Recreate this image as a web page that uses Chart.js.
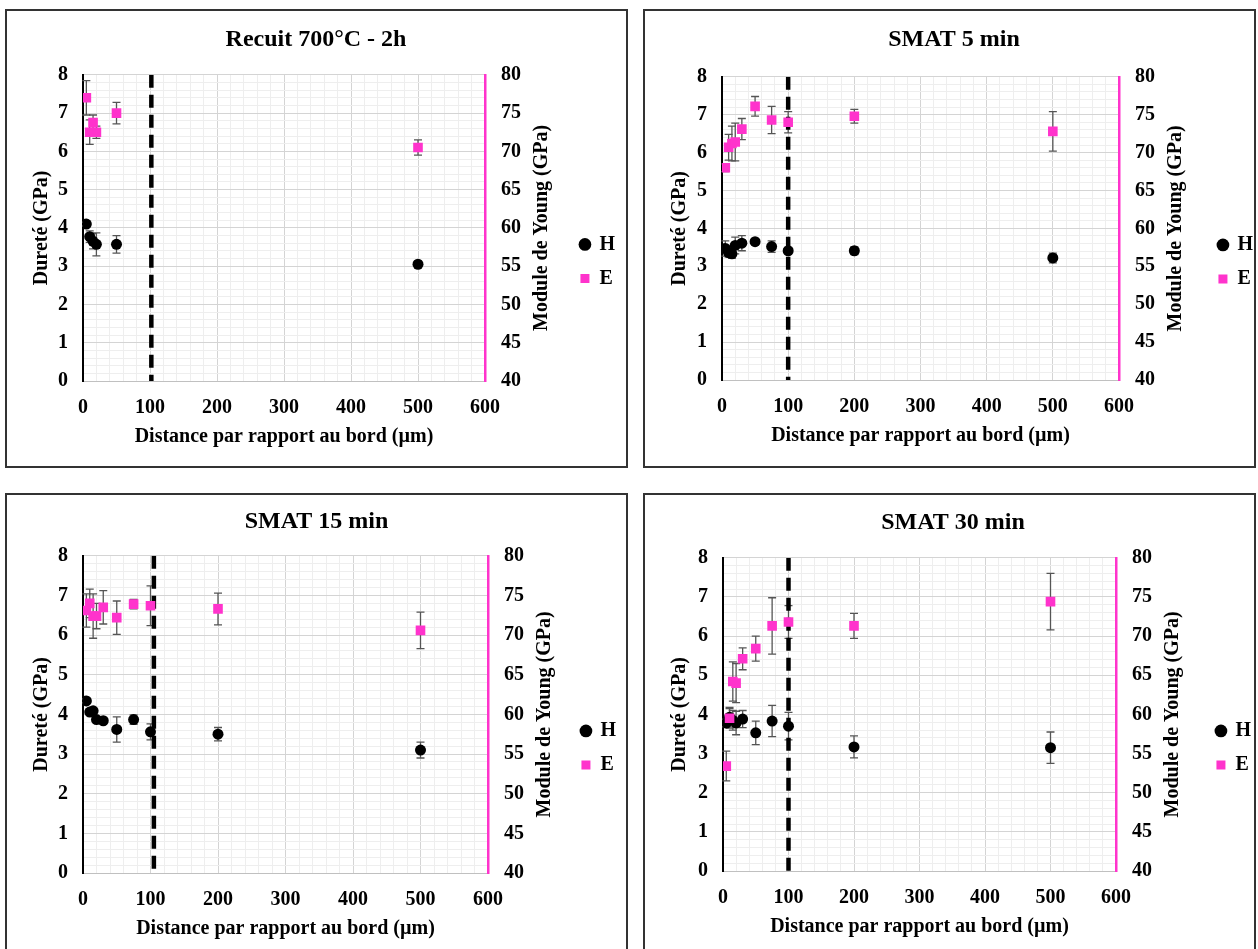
<!DOCTYPE html>
<html>
<head>
<meta charset="utf-8">
<script src="https://cdn.jsdelivr.net/npm/chart.js@4.4.1/dist/chart.umd.min.js"></script>
<style>
html, body { margin: 0; padding: 0; background: #fff; overflow: hidden; width: 1258px; height: 949px; }
.panel { position: absolute; border: 2px solid #333; box-sizing: border-box; background: #fff; }
.panel canvas { position: absolute; left: 0; top: 0; }
</style>
</head>
<body>
<div class="panel" style="left:5px;top:9px;width:623px;height:459px"><canvas id="c1" width="619" height="455"></canvas></div>
<div class="panel" style="left:643px;top:9px;width:613px;height:459px"><canvas id="c2" width="609" height="455"></canvas></div>
<div class="panel" style="left:5px;top:493px;width:623px;height:470px"><canvas id="c3" width="619" height="466"></canvas></div>
<div class="panel" style="left:643px;top:493px;width:613px;height:470px"><canvas id="c4" width="609" height="466"></canvas></div>
<script>
// titres des graphiques
const titres = ["Recuit 700°C - 2h", "SMAT 5 min", "SMAT 15 min", "SMAT 30 min"];
// position du trait pointillé (µm)
const limite = [102, 100, 105, 100];

// Recuit 700°C - 2h
const recuitX = [5, 10, 15, 20, 50, 500];
const recuitH = [4.10, 3.77, 3.65, 3.57, 3.57, 3.05];
const recuitHerr = [0.05, 0.15, 0.2, 0.3, 0.23, 0.05];
const recuitE = [77.0, 72.5, 73.75, 72.5, 75.0, 70.5];
const recuitEerr = [2.25, 1.6, 1.0, 0.8, 1.4, 1.0];

// SMAT 5 min
const smat5X = [5, 10, 15, 20, 30, 50, 75, 100, 200, 500];
const smat5H = [3.47, 3.36, 3.33, 3.55, 3.61, 3.65, 3.52, 3.41, 3.41, 3.22];
const smat5Herr = [0.2, 0.12, 0.12, 0.22, 0.2, 0.08, 0.15, 0.06, 0.1, 0.13];
const smat5E = [68.0, 70.7, 71.2, 71.4, 73.1, 76.1, 74.3, 74.0, 74.8, 72.8];
const smat5Eerr = [0.5, 1.7, 2.3, 2.5, 1.4, 1.3, 1.8, 1.4, 0.9, 2.6];

// SMAT 15 min
const smat15X = [5, 10, 15, 20, 30, 50, 75, 100, 200, 500];
const smat15H = [4.34, 4.06, 4.09, 3.87, 3.84, 3.62, 3.87, 3.56, 3.50, 3.10];
const smat15Herr = [0.05, 0.05, 0.07, 0.06, 0.06, 0.32, 0.12, 0.2, 0.17, 0.2];
const smat15E = [73.1, 74.0, 72.4, 72.4, 73.5, 72.2, 73.9, 73.7, 73.3, 70.6];
const smat15Eerr = [2.1, 1.8, 2.8, 1.6, 2.1, 2.1, 0.6, 2.5, 2.0, 2.3];

// SMAT 30 min
const smat30X = [5, 10, 15, 20, 30, 50, 75, 100, 200, 500];
const smat30H = [3.78, 3.93, 3.85, 3.78, 3.88, 3.53, 3.83, 3.70, 3.17, 3.15];
const smat30Herr = [0.1, 0.25, 0.25, 0.3, 0.22, 0.3, 0.4, 0.35, 0.28, 0.4];
const smat30E = [53.4, 59.5, 64.2, 64.0, 67.1, 68.4, 71.3, 71.8, 71.3, 74.4];
const smat30Eerr = [1.9, 1.25, 2.5, 2.5, 1.4, 1.6, 3.6, 2.1, 1.6, 3.6];

const ROSE = "#ff33cc";
const FONT = "'Liberation Serif', 'Times New Roman', serif";

Chart.defaults.font.family = FONT;
Chart.defaults.font.weight = "bold";
Chart.defaults.color = "#000";

// barres d'erreur dessinées avec les échelles du graphique
const barresErreur = {
    id: "barresErreur",
    beforeDatasetsDraw(chart) {
        const ctx = chart.ctx;
        chart.data.datasets.forEach((ds, i) => {
            if (!ds.erreurs) return;
            const meta = chart.getDatasetMeta(i);
            const sx = chart.scales[meta.xAxisID];
            const sy = chart.scales[meta.yAxisID];
            ctx.save();
            ctx.strokeStyle = "#555";
            ctx.lineWidth = 1.3;
            ds.data.forEach((p, j) => {
                const e = ds.erreurs[j];
                if (!e) return;
                const x = sx.getPixelForValue(p.x);
                const y1 = sy.getPixelForValue(p.y - e);
                const y2 = sy.getPixelForValue(p.y + e);
                ctx.beginPath();
                ctx.moveTo(x, y1); ctx.lineTo(x, y2);
                ctx.moveTo(x - 4, y1); ctx.lineTo(x + 4, y1);
                ctx.moveTo(x - 4, y2); ctx.lineTo(x + 4, y2);
                ctx.stroke();
            });
            ctx.restore();
        });
    }
};

// titre de l'axe de droite, lu de bas en haut
const titreDroit = {
    id: "titreDroit",
    afterDraw(chart) {
        const s = chart.scales.y2;
        const ctx = chart.ctx;
        ctx.save();
        ctx.translate(s.left + 57, (s.top + s.bottom) / 2);
        ctx.rotate(-Math.PI / 2);
        ctx.font = "bold 20px " + FONT;
        ctx.fillStyle = "#000";
        ctx.textAlign = "center";
        ctx.textBaseline = "middle";
        ctx.fillText(s.options.title.text, 0, 0);
        ctx.restore();
    }
};

function points(xs, ys) {
    return xs.map((x, i) => ({ x: x, y: ys[i] }));
}

function grille(major) {
    return (c) => (c.tick && Math.abs(c.tick.value / major - Math.round(c.tick.value / major)) < 1e-6) ? "#d4d4d4" : "#eeeeee";
}

function graphique(id, titre, xs, h, hErr, e, eErr, xLim, m) {
    const ctx = document.getElementById(id).getContext("2d");
    return new Chart(ctx, {
        type: "scatter",
        data: {
            datasets: [
                {
                    label: "H",
                    data: points(xs, h),
                    erreurs: hErr,
                    yAxisID: "y",
                    pointStyle: "circle",
                    pointRadius: 5.5,
                    backgroundColor: "#000",
                    borderWidth: 0,
                    order: 1
                },
                {
                    label: "E",
                    data: points(xs, e),
                    erreurs: eErr,
                    yAxisID: "y2",
                    pointStyle: "rect",
                    pointRadius: 6.8,
                    backgroundColor: ROSE,
                    borderWidth: 0,
                    order: 0
                },
                {
                    label: "limite",
                    data: [{ x: xLim, y: 8 }, { x: xLim, y: 0 }],
                    yAxisID: "y",
                    showLine: true,
                    borderColor: "#000",
                    borderWidth: 4.5,
                    borderDash: [13, 7],
                    pointRadius: 0,
                    order: 2
                }
            ]
        },
        options: {
            responsive: false,
            animation: false,
            events: [],
            layout: { padding: { left: 0, top: 0, right: m.padR, bottom: m.padB } },
            plugins: {
                tooltip: { enabled: false },
                title: {
                    display: true,
                    text: titre,
                    color: "#000",
                    font: { size: 24, weight: "bold", family: FONT },
                    padding: { top: m.tTop, bottom: m.tBot }
                },
                legend: {
                    position: "right",
                    align: "center",
                    fullSize: false,
                    title: { display: true, text: " ", font: { size: 10 }, padding: { top: 0, bottom: 55 } },
                    labels: {
                        usePointStyle: true,
                        boxWidth: 9,
                        boxHeight: 9,
                        padding: 14,
                        color: "#000",
                        font: { size: 20, weight: "bold", family: FONT },
                        filter: (item) => item.datasetIndex < 2,
                        sort: (a, b) => a.datasetIndex - b.datasetIndex
                    }
                }
            },
            scales: {
                x: {
                    type: "linear",
                    min: 0,
                    max: 600,
                    afterFit: (s) => { s.height = 68; },
                    ticks: {
                        stepSize: 20,
                        autoSkip: false,
                        maxRotation: 0,
                        padding: 15,
                        font: { size: 20, weight: "bold" },
                        callback: (v) => (v % 100 === 0 ? String(v) : "")
                    },
                    grid: { color: grille(100), lineWidth: 1, drawTicks: false },
                    border: { color: "#c0c0c0", width: 1 },
                    title: {
                        display: true,
                        text: "Distance par rapport au bord (µm)",
                        font: { size: 20, weight: "bold" },
                        padding: { top: 0, bottom: 0 }
                    }
                },
                y: {
                    position: "left",
                    min: 0,
                    max: 8,
                    afterFit: (s) => { s.width = m.L; },
                    ticks: {
                        stepSize: 0.2,
                        autoSkip: false,
                        padding: 15,
                        font: { size: 20, weight: "bold" },
                        callback: (v) => (Math.abs(v - Math.round(v)) < 1e-6 ? String(Math.round(v)) : "")
                    },
                    grid: { color: grille(1), lineWidth: 1, drawTicks: false },
                    border: { color: "#000", width: 2 },
                    title: {
                        display: true,
                        text: "Dureté (GPa)",
                        font: { size: 20, weight: "bold" },
                        padding: { top: 23, bottom: 0 }
                    }
                },
                y2: {
                    position: "right",
                    min: 40,
                    max: 80,
                    afterFit: (s) => {
                        const lg = s.chart.legend;
                        const lw = lg && lg.width ? lg.width : 60;
                        s.width = Math.max(0, s.chart.width - m.padR - lw - m.R);
                    },
                    ticks: {
                        stepSize: 5,
                        padding: 16,
                        font: { size: 20, weight: "bold" }
                    },
                    grid: { display: false, drawTicks: false },
                    border: { color: ROSE, width: 2.5 },
                    title: { display: false, text: "Module de Young (GPa)" }
                }
            }
        },
        plugins: [barresErreur, titreDroit]
    });
}

// marges de mise en page de chaque panneau (pixels du canevas)
const mise = [
    { L: 76, R: 478, padR: 1, padB: 17, tTop: 14, tBot: 21 },
    { L: 77, R: 474, padR: -9, padB: 18, tTop: 14.5, tBot: 22.5 },
    { L: 76, R: 481, padR: 0, padB: 20, tTop: 12.5, tBot: 19.5 },
    { L: 78, R: 471, padR: -7, padB: 22, tTop: 13.5, tBot: 20.5 }
];

graphique("c1", titres[0], recuitX, recuitH, recuitHerr, recuitE, recuitEerr, limite[0], mise[0]);
graphique("c2", titres[1], smat5X, smat5H, smat5Herr, smat5E, smat5Eerr, limite[1], mise[1]);
graphique("c3", titres[2], smat15X, smat15H, smat15Herr, smat15E, smat15Eerr, limite[2], mise[2]);
graphique("c4", titres[3], smat30X, smat30H, smat30Herr, smat30E, smat30Eerr, limite[3], mise[3]);
</script>
</body>
</html>
